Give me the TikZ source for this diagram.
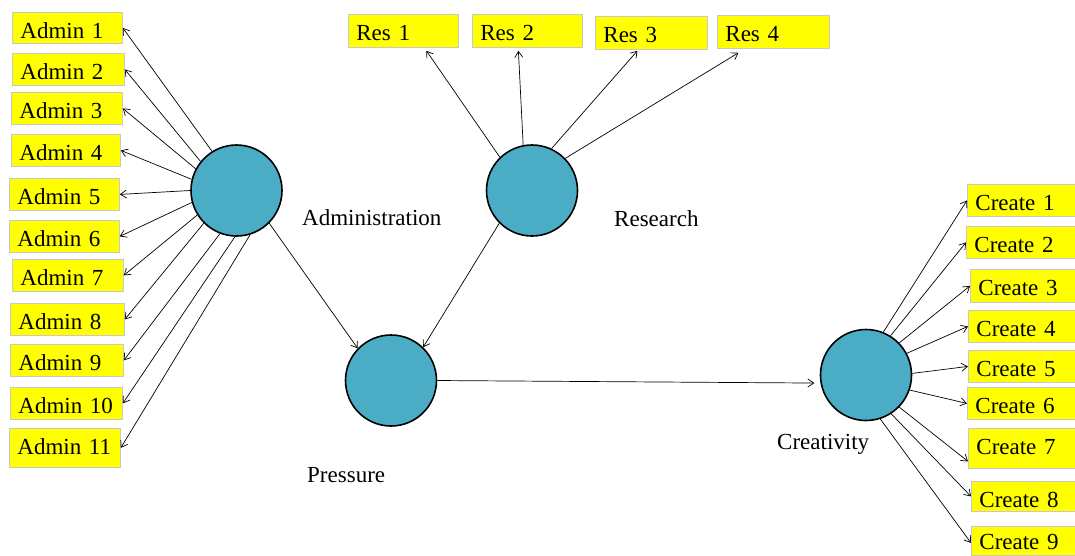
\documentclass[tikz,border=0pt]{standalone}
\usepackage{fontspec}
\setmainfont{Liberation Serif}
\usetikzlibrary{arrows.meta}
\definecolor{ballfill}{HTML}{4BACC6}
\definecolor{boxline}{HTML}{C8C8C8}
\definecolor{boxfill}{HTML}{FFFF00}
\newcommand\labfont{\fontsize{23}{27}\selectfont}
\begin{document}
\begin{tikzpicture}[x=1pt,y=-1pt,
  ybox/.style 2 args={draw=boxline, fill=boxfill, line width=0.8pt, font=\labfont,
    inner xsep=8pt, inner ysep=0pt, text width=#1, text height=26pt, text depth=#2,
    align=left, anchor=north west},
  ball/.style={circle, draw=black, fill=ballfill, line width=1.6pt,
    minimum size=91pt, inner sep=0pt},
  link/.style={line width=0.7pt, -{Straight Barb[length=6pt,width=8pt]}},
  caption/.style={font=\labfont, anchor=base west, inner sep=0pt}]
\useasboundingbox (0,0) rectangle (1075,555);
\clip (0,0) rectangle (1075,555);

% hubs
\node[ball] (adm)  at (236.5,190.5) {};
\node[ball] (res)  at (532,190.5) {};
\node[ball] (pres) at (391,380.5) {};
\node[ball] (cre)  at (866,375) {};

% hub captions
\node[caption] (admcap)  at (302,225) {Administration};
\node[caption] (rescap)  at (614,226) {Research};
\node[caption] (prescap) at (307,482) {Pressure};
\node[caption] (crecap)  at (777,449) {Creativity};

% administration items
\node[ybox={94pt}{5pt}]  (a1)  at (12,12)  {Admin 1};
\node[ybox={96pt}{6pt}]  (a2)  at (12,53)  {Admin 2};
\node[ybox={95pt}{6pt}]  (a3)  at (11,92)  {Admin 3};
\node[ybox={93pt}{6pt}]  (a4)  at (11,134) {Admin 4};
\node[ybox={94pt}{6pt}]  (a5)  at (9,178)  {Admin 5};
\node[ybox={94pt}{6pt}]  (a6)  at (9,220)  {Admin 6};
\node[ybox={95pt}{6pt}]  (a7)  at (12,259) {Admin 7};
\node[ybox={98pt}{6pt}]  (a8)  at (10,303) {Admin 8};
\node[ybox={97pt}{6pt}]  (a9)  at (10,344) {Admin 9};
\node[ybox={96pt}{6pt}]  (a10) at (10,387) {Admin 10};
\node[ybox={95pt}{13pt}] (a11) at (9,428)  {Admin 11};

% research items
\node[ybox={94pt}{7pt}] (r1) at (348,14) {Res 1};
\node[ybox={94pt}{7pt}] (r2) at (472,14) {Res 2};
\node[ybox={96pt}{7pt}] (r3) at (595,16) {Res 3};
\node[ybox={96pt}{7pt}] (r4) at (717,15) {Res 4};

% creativity items
\node[ybox={94pt}{6pt}]  (c1) at (967,184) {Create 1};
\node[ybox={94pt}{6pt}]  (c2) at (966,226) {Create 2};
\node[ybox={94pt}{7pt}]  (c3) at (970,269) {Create 3};
\node[ybox={94pt}{6pt}]  (c4) at (968,310) {Create 4};
\node[ybox={94pt}{6pt}]  (c5) at (968,350) {Create 5};
\node[ybox={94pt}{6pt}]  (c6) at (967,387) {Create 6};
\node[ybox={94pt}{14pt}] (c7) at (968,428) {Create 7};
\node[ybox={94pt}{4pt}]  (c8) at (971,481) {Create 8};
\node[ybox={94pt}{6pt}, text height=23pt] (c9) at (971,526) {Create 9};

% administration fan
\draw[link] (adm.122) -- (a1.east);
\draw[link] (adm.141) -- (a2.east);
\draw[link] (adm.152) -- (a3.east);
\draw[link] (adm.166) -- (a4.east);
\draw[link] (adm.180) -- (a5.east);
\draw[link] (adm.195) -- (a6.east);
\draw[link] (adm.212) -- (a7.east);
\draw[link] (adm.225) -- (a8.east);
\draw[link] (adm.249) -- (a9.east);
\draw[link] (adm.268) -- (a10.east);
\draw[link] (adm.287) -- (a11.east);

% research fan
\draw[link] (res.134) -- ([xshift=23pt,yshift=-3pt]r1.south);
\draw[link] (res.101) -- ([xshift=-9pt,yshift=-3pt]r2.south);
\draw[link] (res.65)  -- ([xshift=-14pt,yshift=-1pt]r3.south);
\draw[link] (res.44.6) -- ([xshift=-35pt,yshift=-4pt]r4.south);

% flow between hubs
\draw[link] (adm.315) -- (pres.136);
\draw[link] (res.225) -- (pres.46);
\draw[link] (pres.0) -- ([xshift=-6pt]cre.190);

% creativity fan
\draw[link] (cre.68)  -- (c1.west);
\draw[link] (cre.58)  -- (c2.west);
\draw[link] (cre.44)  -- (c3.west);
\draw[link] (cre.28)  -- (c4.west);
\draw[link] (cre.2)   -- (c5.west);
\draw[link] (cre.341) -- (c6.west);
\draw[link] (cre.316) -- ([yshift=-13pt]c7.west);
\draw[link] (cre.303) -- (c8.west);
\draw[link] (cre.288) -- ([yshift=-2pt]c9.west);
\end{tikzpicture}
\end{document}
